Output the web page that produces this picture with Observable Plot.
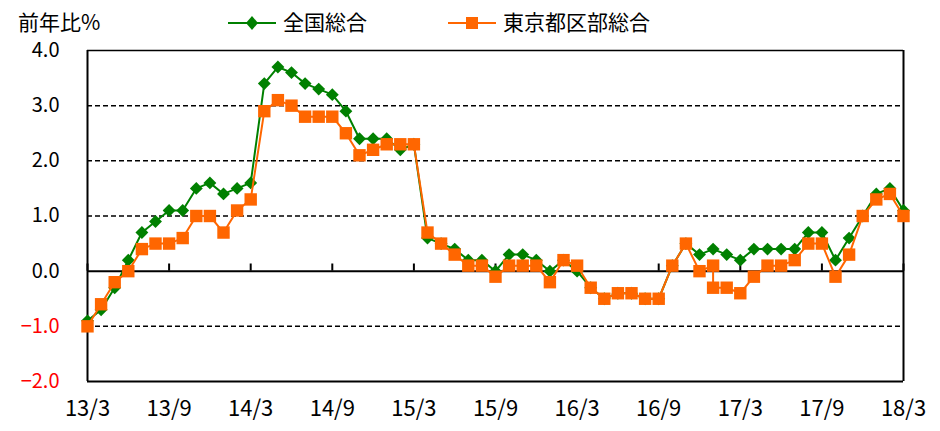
<!DOCTYPE html>
<html>
<head>
<meta charset="utf-8">
<script src="https://cdn.jsdelivr.net/npm/d3@7"></script>
<script src="https://cdn.jsdelivr.net/npm/@observablehq/plot@0.6"></script>
<style>
  body { margin: 0; background: #fff; font-family: "Noto Sans CJK JP", "Noto Sans", sans-serif; }
  #wrap { position: relative; width: 940px; }
  #header { position: relative; height: 40px; width: 940px; }
  .hl { position: absolute; font-size: 21px; line-height: 21px; color: #000; white-space: nowrap; }
  .sym { position: absolute; }
</style>
</head>
<body>
<div id="wrap">
  <div id="header">
    <div class="hl" id="ylab" style="left:18px; top:11px;"></div>
    <svg class="sym" style="left:226px; top:14px;" width="52" height="18">
      <line x1="2" x2="50" y1="9" y2="9" stroke="#008000" stroke-width="2"/>
      <path d="M26,2 L32,9 L26,16 L20,9 Z" fill="#008000"/>
    </svg>
    <div class="hl" id="leg1" style="left:283px; top:11px;"></div>
    <svg class="sym" style="left:446px; top:14px;" width="52" height="18">
      <line x1="2" x2="50" y1="9" y2="9" stroke="#FF6600" stroke-width="2"/>
      <rect x="20" y="3" width="12" height="12" fill="#FF6600"/>
    </svg>
    <div class="hl" id="leg2" style="left:503px; top:11px;"></div>
  </div>
  <div id="chart"></div>
</div>
<script>
// ---- data ----
const yLabel = "前年比%";
const seriesNames = ["全国総合", "東京都区部総合"];
const tickLabels = ["13/3","13/9","14/3","14/9","15/3","15/9","16/3","16/9","17/3","17/9","18/3"];
// monthly values, 2013/3 .. 2018/3
const national = [
  -0.9,-0.7,-0.3,0.2,0.7,0.9,1.1,1.1,1.5,1.6,1.4,1.5,
  1.6,3.4,3.7,3.6,3.4,3.3,3.2,2.9,2.4,2.4,2.4,2.2,
  2.3,0.6,0.5,0.4,0.2,0.2,0.0,0.3,0.3,0.2,0.0,0.2,
  0.0,-0.3,-0.5,-0.4,-0.4,-0.5,-0.5,0.1,0.5,0.3,0.4,0.3,
  0.2,0.4,0.4,0.4,0.4,0.7,0.7,0.2,0.6,1.0,1.4,1.5,
  1.1
];
const tokyo = [
  -1.0,-0.6,-0.2,0.0,0.4,0.5,0.5,0.6,1.0,1.0,0.7,1.1,
  1.3,2.9,3.1,3.0,2.8,2.8,2.8,2.5,2.1,2.2,2.3,2.3,
  2.3,0.7,0.5,0.3,0.1,0.1,-0.1,0.1,0.1,0.1,-0.2,0.2,
  0.1,-0.3,-0.5,-0.4,-0.4,-0.5,-0.5,0.1,0.5,0.0,0.1,-0.3,
  -0.4,-0.1,0.1,0.1,0.2,0.5,0.5,-0.1,0.3,1.0,1.3,1.4,
  1.0
];
// second reading plotted at 17/1 (month index 46) in the Tokyo series
const tokyoExtra = { month: 46, value: -0.3 };
const yTicks = [-2, -1, 0, 1, 2, 3, 4];
const gridValues = [3, 2, 1, -1];

// ---- build rows ----
const natRows = national.map((v, i) => ({ i, v }));
const tokRows = tokyo.map((v, i) => ({ i, v }));
tokRows.splice(tokyoExtra.month + 1, 0, { i: tokyoExtra.month, v: tokyoExtra.value });
const tickIdx = tickLabels.map((_, k) => k * 6);
const lastIdx = national.length - 1;

document.getElementById("ylab").textContent = yLabel;
document.getElementById("leg1").textContent = seriesNames[0];
document.getElementById("leg2").textContent = seriesNames[1];

const fmt = d3.format(".1f");
const font = "Noto Sans CJK JP";

const chart = Plot.plot({
  width: 940,
  height: 391,
  marginTop: 10,
  marginBottom: 50,
  marginLeft: 87,
  marginRight: 37,
  style: { fontFamily: font, background: "#fff", overflow: "visible" },
  x: { type: "linear", domain: [0, lastIdx] },
  y: { domain: [-2, 4] },
  marks: [
    Plot.ruleY(gridValues, { stroke: "#000", strokeWidth: 1.5, strokeDasharray: "5,3" }),
    Plot.ruleY([0], { stroke: "#000", strokeWidth: 2 }),
    Plot.ruleY([4], { stroke: "#000", strokeWidth: 1.5 }),
    Plot.ruleY([-2], { stroke: "#000", strokeWidth: 2 }),
    Plot.ruleX([0, lastIdx], { stroke: "#000", strokeWidth: 2 }),
    Plot.ruleX(tickIdx, { x: d => d, y1: 0, y2: 0.13, stroke: "#000", strokeWidth: 2 }),
    Plot.axisX({ ticks: tickIdx, tickFormat: (d) => tickLabels[d / 6], tickSize: 0, tickPadding: 19, fontSize: 22, fill: "#000", label: null }),
    Plot.axisY({ ticks: yTicks.filter(d => d >= 0), tickFormat: fmt, tickSize: 0, tickPadding: 28, fontSize: 20, fill: "#000", label: null }),
    Plot.axisY({ ticks: yTicks.filter(d => d < 0), tickFormat: fmt, tickSize: 0, tickPadding: 28, fontSize: 20, fill: "#FF0000", label: null }),
    Plot.line(natRows, { x: "i", y: "v", stroke: "#008000", strokeWidth: 2 }),
    Plot.dot(natRows, { x: "i", y: "v", symbol: "diamond2", r: 5.8, fill: "#008000", stroke: "none" }),
    Plot.line(tokRows, { x: "i", y: "v", stroke: "#FF6600", strokeWidth: 2 }),
    Plot.dot(tokRows, { x: "i", y: "v", symbol: "square", r: 7, fill: "#FF6600", stroke: "none" })
  ]
});
document.getElementById("chart").appendChild(chart);
</script>
</body>
</html>
